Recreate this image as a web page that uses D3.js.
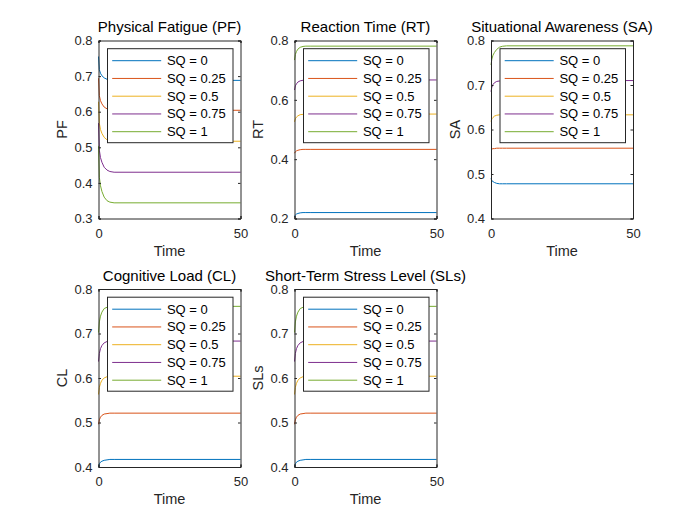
<!DOCTYPE html>
<html>
<head>
<meta charset="utf-8">
<script src="https://cdn.jsdelivr.net/npm/d3@7"></script>
<style>
  html, body { margin: 0; padding: 0; background: #fff; }
  svg { display: block; font-family: "Liberation Sans", Arial, Helvetica, sans-serif; }
</style>
</head>
<body>
<svg id="chart" width="700" height="525"></svg>
<script>
// ---- data ----
const time = [0, 0.3, 0.7, 1.2, 2, 3, 4, 5.5, 50];
const sqLabels = ["SQ = 0", "SQ = 0.25", "SQ = 0.5", "SQ = 0.75", "SQ = 1"];
const xTicks = [0, 50];

const pfValues = [
  [0.755, 0.718, 0.708, 0.701, 0.695, 0.691, 0.689, 0.688, 0.688],
  [0.694, 0.645, 0.631, 0.622, 0.613, 0.608, 0.605, 0.604, 0.604],
  [0.628, 0.567, 0.550, 0.539, 0.528, 0.521, 0.519, 0.517, 0.517],
  [0.568, 0.492, 0.471, 0.458, 0.444, 0.436, 0.432, 0.430, 0.430],
  [0.504, 0.416, 0.392, 0.376, 0.360, 0.350, 0.346, 0.344, 0.344]
];
const rtValues = [
  [0.206, 0.212, 0.215, 0.217, 0.219, 0.220, 0.220, 0.220, 0.220],
  [0.420, 0.425, 0.428, 0.430, 0.432, 0.433, 0.433, 0.433, 0.433],
  [0.526, 0.536, 0.542, 0.546, 0.550, 0.551, 0.552, 0.552, 0.552],
  [0.633, 0.647, 0.654, 0.660, 0.664, 0.666, 0.667, 0.667, 0.667],
  [0.734, 0.753, 0.763, 0.771, 0.777, 0.780, 0.781, 0.781, 0.781]
];
const saValues = [
  [0.490, 0.485, 0.483, 0.481, 0.479, 0.478, 0.478, 0.478, 0.478],
  [0.555, 0.556, 0.557, 0.557, 0.558, 0.558, 0.558, 0.558, 0.558],
  [0.618, 0.624, 0.627, 0.630, 0.632, 0.633, 0.633, 0.633, 0.633],
  [0.685, 0.695, 0.701, 0.705, 0.708, 0.709, 0.710, 0.710, 0.710],
  [0.745, 0.758, 0.767, 0.773, 0.780, 0.785, 0.787, 0.788, 0.788]
];
const clValues = [
  [0.400, 0.407, 0.411, 0.413, 0.415, 0.416, 0.417, 0.417, 0.417],
  [0.496, 0.506, 0.512, 0.516, 0.519, 0.520, 0.521, 0.521, 0.521],
  [0.563, 0.579, 0.588, 0.595, 0.600, 0.603, 0.604, 0.604, 0.604],
  [0.637, 0.655, 0.666, 0.673, 0.679, 0.682, 0.683, 0.683, 0.683],
  [0.702, 0.726, 0.739, 0.748, 0.756, 0.759, 0.760, 0.761, 0.761]
];
const slsValues = [
  [0.400, 0.407, 0.411, 0.413, 0.415, 0.416, 0.417, 0.417, 0.417],
  [0.496, 0.506, 0.512, 0.516, 0.519, 0.520, 0.521, 0.521, 0.521],
  [0.563, 0.579, 0.588, 0.595, 0.600, 0.603, 0.604, 0.604, 0.604],
  [0.637, 0.655, 0.666, 0.673, 0.679, 0.682, 0.683, 0.683, 0.683],
  [0.702, 0.726, 0.739, 0.748, 0.756, 0.759, 0.760, 0.761, 0.761]
];

const titles = ["Physical Fatigue (PF)", "Reaction Time (RT)", "Situational Awareness (SA)",
                "Cognitive Load (CL)", "Short-Term Stress Level (SLs)"];
const yLabels = ["PF", "RT", "SA", "CL", "SLs"];
const yDomains = [[0.3, 0.8], [0.2, 0.8], [0.4, 0.8], [0.4, 0.8], [0.4, 0.8]];
const yTicks = [
  [0.3, 0.4, 0.5, 0.6, 0.7, 0.8],
  [0.2, 0.4, 0.6, 0.8],
  [0.4, 0.5, 0.6, 0.7, 0.8],
  [0.4, 0.5, 0.6, 0.7, 0.8],
  [0.4, 0.5, 0.6, 0.7, 0.8]
];
const allValues = [pfValues, rtValues, saValues, clValues, slsValues];

// ---- style / layout ----
const colors = ["#0072BD", "#D95319", "#EDB120", "#7E2F8E", "#77AC30"];
const colX = [98.5, 294.5, 491];
const rowY = [40.5, 289];
const W = 142, H = 178;
const axisColor = "#262626";

const svg = d3.select("#chart");
svg.append("rect").attr("width", 700).attr("height", 525).attr("fill", "#fff");

allValues.forEach((series, p) => {
  const x0 = colX[p % 3], y0 = rowY[Math.floor(p / 3)];
  const g = svg.append("g").attr("transform", `translate(${x0},${y0})`);
  const x = d3.scaleLinear().domain([0, 50]).range([0, W]);
  const y = d3.scaleLinear().domain(yDomains[p]).range([H, 0]);

  // data lines
  const line = d3.line().x((d, i) => x(time[i])).y(d => y(d));
  series.forEach((vals, s) => {
    g.append("path").attr("d", line(vals)).attr("fill", "none")
      .attr("stroke", colors[s]).attr("stroke-width", 1);
  });

  // axes (box with ticks on all sides)
  const fmt = d3.format("");
  const left = d3.axisLeft(y).tickValues(yTicks[p]).tickSize(-2.5).tickPadding(8).tickFormat(fmt);
  const right = d3.axisRight(y).tickValues(yTicks[p]).tickSize(-2.5).tickFormat("");
  const bottom = d3.axisBottom(x).tickValues(xTicks).tickSize(-2.5).tickPadding(10).tickFormat(fmt);
  const top = d3.axisTop(x).tickValues(xTicks).tickSize(-2.5).tickFormat("");

  const gl = g.append("g").call(left);
  const gr = g.append("g").attr("transform", `translate(${W},0)`).call(right);
  const gb = g.append("g").attr("transform", `translate(0,${H})`).call(bottom);
  const gt = g.append("g").call(top);
  [gl, gr, gb, gt].forEach(a => {
    a.selectAll("path.domain").attr("stroke", axisColor).attr("stroke-width", 1);
    a.selectAll(".tick line").attr("stroke", axisColor).attr("stroke-width", 1);
    a.selectAll(".tick text").attr("fill", axisColor).style("font-size", "13px")
      .style("font-family", '"Liberation Sans", Arial, Helvetica, sans-serif');
  });
  gl.selectAll(".tick text").attr("x", -6);

  // labels
  g.append("text").attr("x", W / 2).attr("y", H + 37).attr("text-anchor", "middle")
    .attr("fill", axisColor).style("font-size", "14.5px").text("Time");
  g.append("text").attr("transform", `translate(-31.5,${H / 2}) rotate(-90)`)
    .attr("text-anchor", "middle").attr("fill", axisColor).style("font-size", "14.5px")
    .text(yLabels[p]);
  g.append("text").attr("x", W / 2).attr("y", -8.5).attr("text-anchor", "middle")
    .attr("fill", "#000").style("font-size", "15px").text(titles[p]);

  // legend
  const lw = 125.5, lh = 94;
  const lx = W - 7.5 - lw, ly = 8.2;
  const lg = g.append("g").attr("transform", `translate(${lx},${ly})`);
  lg.append("rect").attr("width", lw).attr("height", lh).attr("fill", "#fff")
    .attr("stroke", axisColor).attr("stroke-width", 1);
  sqLabels.forEach((lab, s) => {
    const yy = 12 + s * 17.75;
    lg.append("line").attr("x1", 4.7).attr("x2", 53.7).attr("y1", yy).attr("y2", yy)
      .attr("stroke", colors[s]).attr("stroke-width", 1);
    lg.append("text").attr("x", 59.4).attr("y", yy).attr("dy", "0.35em")
      .attr("fill", "#000").style("font-size", "13px").text(lab);
  });
});
</script>
</body>
</html>
